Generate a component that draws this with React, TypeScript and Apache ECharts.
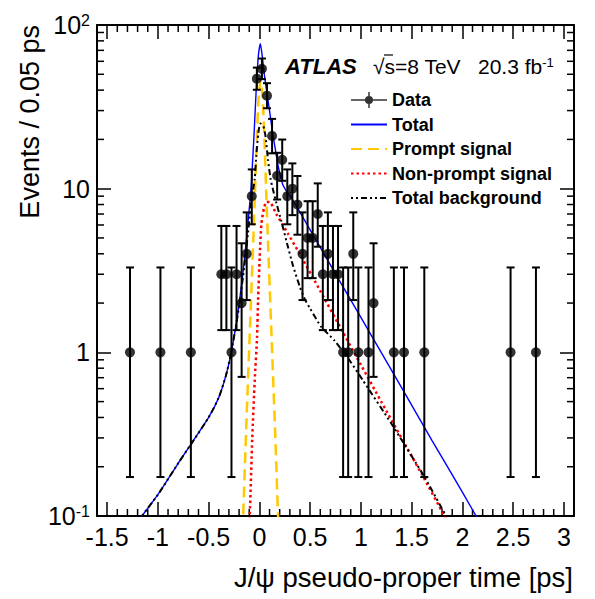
import React, { useEffect, useRef } from 'react';
import * as echarts from 'echarts';

const FONT = '"Liberation Sans", Arial, Helvetica, sans-serif';

// Data histogram (bin centres, 0.05 ps bins) and counts
const dataX = [-1.275, -0.975, -0.675, -0.375, -0.325, -0.275, -0.225, -0.175, -0.125, -0.075, -0.025, 0.025, 0.075, 0.125, 0.175, 0.225, 0.275, 0.325, 0.375, 0.425, 0.475, 0.525, 0.575, 0.625, 0.675, 0.725, 0.775, 0.825, 0.875, 0.925, 0.975, 1.075, 1.125, 1.325, 1.425, 1.625, 2.475, 2.725];
const dataY = [1, 1, 1, 3, 3, 1, 3, 2, 4, 9, 47, 54, 37, 21, 12, 15, 9, 10, 8, 4, 5, 5, 7, 3, 4, 3, 3, 1, 1, 4, 1, 1, 2, 1, 1, 1, 1, 1];

// Poisson (68%) interval per count, as drawn
const poissonCounts = [1, 2, 3, 4, 5, 7, 8, 9, 10, 12, 15, 21, 37, 47, 54];
const poissonLow = [0.173, 0.708, 1.367, 2.086, 2.84, 4.419, 5.232, 6.057, 6.891, 8.585, 11.17, 16.44, 31.0, 40.2, 46.7];
const poissonHigh = [3.3, 4.638, 5.918, 7.163, 8.382, 10.77, 11.95, 13.11, 14.27, 16.56, 19.96, 26.69, 44.1, 54.9, 62.4];

// Total fit
const totalX = [-1.25, -1.2, -1.0, -0.8, -0.67, -0.5, -0.4, -0.33, -0.28, -0.24, -0.2, -0.145, -0.1, -0.08, -0.05, -0.03, -0.01, 0.01, 0.03, 0.05, 0.075, 0.1, 0.13, 0.16, 0.18, 0.23, 0.27, 0.33, 0.5, 0.8, 1.1, 1.4, 1.7, 2.0, 2.2];
const totalY = [0.08, 0.092, 0.135, 0.21, 0.277, 0.4, 0.53, 0.72, 0.98, 1.35, 1.95, 3.8, 7.5, 10.5, 23, 42, 65, 77, 63, 49, 38, 30, 22, 17, 14.2, 10.6, 9.6, 8.5, 5.6, 2.67, 1.28, 0.61, 0.29, 0.14, 0.085];

// Prompt signal
const promptX = [-0.178, -0.16, -0.128, -0.095, -0.068, -0.046, -0.028, -0.008, 0.012, 0.032, 0.052, 0.07, 0.092, 0.119, 0.152, 0.184, 0.202];
const promptY = [0.05, 0.1, 0.37, 1.3, 3.6, 8.5, 18, 36, 46, 36, 18, 8.5, 3.6, 1.3, 0.37, 0.1, 0.05];

// Non-prompt signal
const nonPromptX = [-0.11, -0.095, -0.07, -0.046, -0.023, -0.013, 0.003, 0.02, 0.045, 0.07, 0.1, 0.167, 0.282, 0.397, 0.6, 0.8, 1.0, 1.2, 1.4, 1.6, 1.824, 1.9];
const nonPromptY = [0.07, 0.1, 0.3, 0.67, 1.24, 2.08, 3.8, 6.1, 7.6, 8.3, 8.3, 7.0, 5.3, 4.0, 2.37, 1.41, 0.84, 0.5, 0.3, 0.18, 0.1, 0.082];

// Total background
const bkgX = [-1.25, -1.2, -1.0, -0.8, -0.67, -0.5, -0.4, -0.33, -0.28, -0.24, -0.2, -0.15, -0.1, -0.08, -0.046, -0.03, -0.01, 0.01, 0.04, 0.06, 0.085, 0.11, 0.135, 0.167, 0.217, 0.266, 0.33, 0.4, 0.45, 0.5, 0.61, 0.74, 0.89, 1.02, 1.3, 1.627, 1.84, 1.9];
const bkgY = [0.08, 0.092, 0.135, 0.21, 0.277, 0.4, 0.53, 0.72, 0.98, 1.35, 1.9, 3.3, 6.3, 8.3, 11.5, 16, 22, 25, 24, 21, 15, 11.5, 9.8, 8.2, 6.3, 4.8, 3.4, 2.5, 2.1, 1.85, 1.43, 1.18, 0.89, 0.674, 0.367, 0.173, 0.1, 0.088];

// Axes
const xMin = -1.6;
const xMax = 3.1;
const yMin = 0.1;
const yMax = 100;
const xTickLabels = [-1.5, -1, -0.5, 0, 0.5, 1, 1.5, 2, 2.5, 3];
const yDecades = [0.1, 1, 10, 100];

const zip = (xs: number[], ys: number[]) => xs.map((x, i) => [x, ys[i]]);

export default function App() {
  const ref = useRef<HTMLDivElement>(null);

  useEffect(() => {
    if (!ref.current) return;
    const chart = echarts.init(ref.current, undefined, { renderer: 'svg' });

    const errData = dataX.map((x, i) => {
      const k = poissonCounts.indexOf(dataY[i]);
      return [x, dataY[i], poissonLow[k], poissonHigh[k]];
    });

    // minor tick positions (non-data decoration)
    const minorTicks: number[][] = [];
    for (let i = -15; i <= 30; i++) {
      if (i % 5 !== 0) minorTicks.push([i / 10, 1, 0]);
    }
    for (let d = 0; d < yDecades.length - 1; d++) {
      for (let m = 2; m <= 9; m++) minorTicks.push([0, +(m * yDecades[d]).toFixed(4), 1]);
    }

    const axisLine = { show: true, onZero: false, lineStyle: { color: '#000', width: 2 } };
    const tickStyle = { color: '#000', width: 1.5 };
    const hideSym = { opacity: 0, color: 'rgba(0,0,0,0)', borderWidth: 0 };

    const dataIcon = 'path://M0 7.25H36V8.75H0Z M17.25 0H18.75V16H17.25Z M14 8A4 4 0 1 1 22 8A4 4 0 1 1 14 8Z';

    chart.setOption({
      animation: false,
      backgroundColor: '#fff',
      grid: { left: 97, right: 21, top: 25, bottom: 83, containLabel: false, outerBoundsMode: 'none' },
      xAxis: [
        {
          type: 'value', position: 'bottom', min: xMin, max: xMax,
          axisLine, splitLine: { show: false },
          axisTick: { show: true, inside: true, length: 14, lineStyle: tickStyle, customValues: xTickLabels },
          axisLabel: {
            show: true, customValues: xTickLabels, margin: 8, color: '#000', fontSize: 25, fontFamily: FONT,
            formatter: (v: number) => String(v),
          },
        },
        {
          type: 'value', position: 'top', min: xMin, max: xMax,
          axisLine, splitLine: { show: false },
          axisTick: { show: true, inside: true, length: 14, lineStyle: tickStyle, customValues: xTickLabels },
          axisLabel: { show: false },
        },
      ],
      yAxis: [
        {
          type: 'log', logBase: 10, position: 'left', min: yMin, max: yMax,
          axisLine, splitLine: { show: false },
          axisTick: { show: true, inside: true, length: 14, lineStyle: tickStyle },
          axisLabel: {
            show: true, margin: 7, color: '#000', fontSize: 25, fontFamily: FONT,
            formatter: (v: number) => {
              const e = Math.round(Math.log10(v));
              if (e === 0) return '{b|1}';
              if (e === 1) return '{b|10}';
              return '{b|10}{s|' + e + '}';
            },
            rich: {
              b: { fontSize: 25, fontFamily: FONT, color: '#000' },
              s: { fontSize: 16, fontFamily: FONT, color: '#000', verticalAlign: 'top' },
            },
          },
        },
        {
          type: 'log', logBase: 10, position: 'right', min: yMin, max: yMax,
          axisLine, splitLine: { show: false },
          axisTick: { show: true, inside: true, length: 14, lineStyle: tickStyle },
          axisLabel: { show: false },
        },
      ],
      legend: {
        orient: 'vertical', left: 345, top: 86, itemWidth: 36, itemHeight: 16, itemGap: 6.5,
        selectedMode: false,
        textStyle: { fontSize: 18, fontWeight: 'bold', fontFamily: FONT, color: '#000' },
        data: [
          { name: 'Data', icon: dataIcon },
          { name: 'Total', itemStyle: hideSym },
          { name: 'Prompt signal', itemStyle: hideSym },
          { name: 'Non-prompt signal', itemStyle: hideSym },
          { name: 'Total background', itemStyle: hideSym },
        ],
      },
      graphic: [
        {
          type: 'text', x: 285, y: 66,
          style: { text: 'ATLAS', font: `italic bold 22px ${FONT}`, fill: '#000', align: 'left', verticalAlign: 'middle' },
        },
        {
          type: 'text', x: 373, y: 66,
          style: { text: '√s=8 TeV', font: `21px ${FONT}`, fill: '#000', align: 'left', verticalAlign: 'middle' },
        },
        {
          type: 'line', shape: { x1: 384, y1: 55, x2: 393, y2: 55 }, style: { stroke: '#000', lineWidth: 1.2 },
        },
        {
          type: 'text', x: 478, y: 66,
          style: {
            text: '{m|20.3 fb}{s|-1}', fill: '#000', align: 'left', verticalAlign: 'middle',
            rich: {
              m: { fontSize: 21, fontFamily: FONT, fill: '#000' },
              s: { fontSize: 13, fontFamily: FONT, fill: '#000', verticalAlign: 'top' },
            },
          },
        },
        {
          type: 'text', x: 30, y: 25, rotation: Math.PI / 2,
          style: { text: 'Events / 0.05 ps', font: `27px ${FONT}`, fill: '#000', align: 'right', verticalAlign: 'middle' },
        },
        {
          type: 'text', x: 573, y: 577,
          style: { text: 'J/ψ pseudo-proper time [ps]', font: `27.5px ${FONT}`, fill: '#000', align: 'right', verticalAlign: 'middle' },
        },
      ],
      series: [
        {
          name: 'minorTicks', type: 'custom', silent: true, z: 1,
          data: minorTicks,
          renderItem: (params: any, api: any) => {
            const v0 = api.value(0);
            const v1 = api.value(1);
            const kind = api.value(2);
            const st = { stroke: '#000', lineWidth: 1.5 };
            const L = 7;
            if (kind === 0) {
              const b = api.coord([v0, yMin]);
              const t = api.coord([v0, yMax]);
              return {
                type: 'group', children: [
                  { type: 'line', shape: { x1: b[0], y1: b[1], x2: b[0], y2: b[1] - L }, style: st },
                  { type: 'line', shape: { x1: t[0], y1: t[1], x2: t[0], y2: t[1] + L }, style: st },
                ],
              };
            }
            const l = api.coord([xMin, v1]);
            const r = api.coord([xMax, v1]);
            return {
              type: 'group', children: [
                { type: 'line', shape: { x1: l[0], y1: l[1], x2: l[0] + L, y2: l[1] }, style: st },
                { type: 'line', shape: { x1: r[0], y1: r[1], x2: r[0] - L, y2: r[1] }, style: st },
              ],
            };
          },
        },
        {
          name: 'Prompt signal', type: 'line', data: zip(promptX, promptY), showSymbol: false, symbol: 'none',
          smooth: 0.2, clip: true, z: 3,
          lineStyle: { color: '#ffc800', width: 2.5, type: [11, 6] }, itemStyle: { color: '#ffc800' },
        },
        {
          name: 'Non-prompt signal', type: 'line', data: zip(nonPromptX, nonPromptY), showSymbol: false, symbol: 'none',
          smooth: 0.2, clip: true, z: 3,
          lineStyle: { color: '#ff0000', width: 2.5, type: [2.5, 3] }, itemStyle: { color: '#ff0000' },
        },
        {
          name: 'Total', type: 'line', data: zip(totalX, totalY), showSymbol: false, symbol: 'none',
          smooth: 0.2, clip: true, z: 4,
          lineStyle: { color: '#0000ff', width: 1.4, type: 'solid' }, itemStyle: { color: '#0000ff' },
        },
        {
          name: 'Total background', type: 'line', data: zip(bkgX, bkgY), showSymbol: false, symbol: 'none',
          smooth: 0.2, clip: true, z: 4,
          lineStyle: { color: '#000', width: 2, type: [2, 3, 2, 3, 6, 3] }, itemStyle: { color: '#000' },
        },
        {
          name: 'DataErr', type: 'custom', silent: true, z: 5,
          encode: { x: 0, y: 1 },
          data: errData,
          renderItem: (params: any, api: any) => {
            const x = api.value(0);
            const lo = api.coord([x, api.value(2)]);
            const hi = api.coord([x, api.value(3)]);
            const c = 4;
            const st = { stroke: '#000', lineWidth: 2 };
            return {
              type: 'group', children: [
                { type: 'line', shape: { x1: lo[0], y1: lo[1], x2: hi[0], y2: hi[1] }, style: st },
                { type: 'line', shape: { x1: lo[0] - c, y1: lo[1], x2: lo[0] + c, y2: lo[1] }, style: st },
                { type: 'line', shape: { x1: hi[0] - c, y1: hi[1], x2: hi[0] + c, y2: hi[1] }, style: st },
              ],
            };
          },
        },
        {
          name: 'Data', type: 'scatter', data: zip(dataX, dataY), symbol: 'circle', symbolSize: 10, z: 6,
          itemStyle: { color: '#000' },
        },
      ],
    });

    return () => chart.dispose();
  }, []);

  return <div ref={ref} style={{ position: 'absolute', left: 0, top: 0, width: 595, height: 599 }} />;
}
